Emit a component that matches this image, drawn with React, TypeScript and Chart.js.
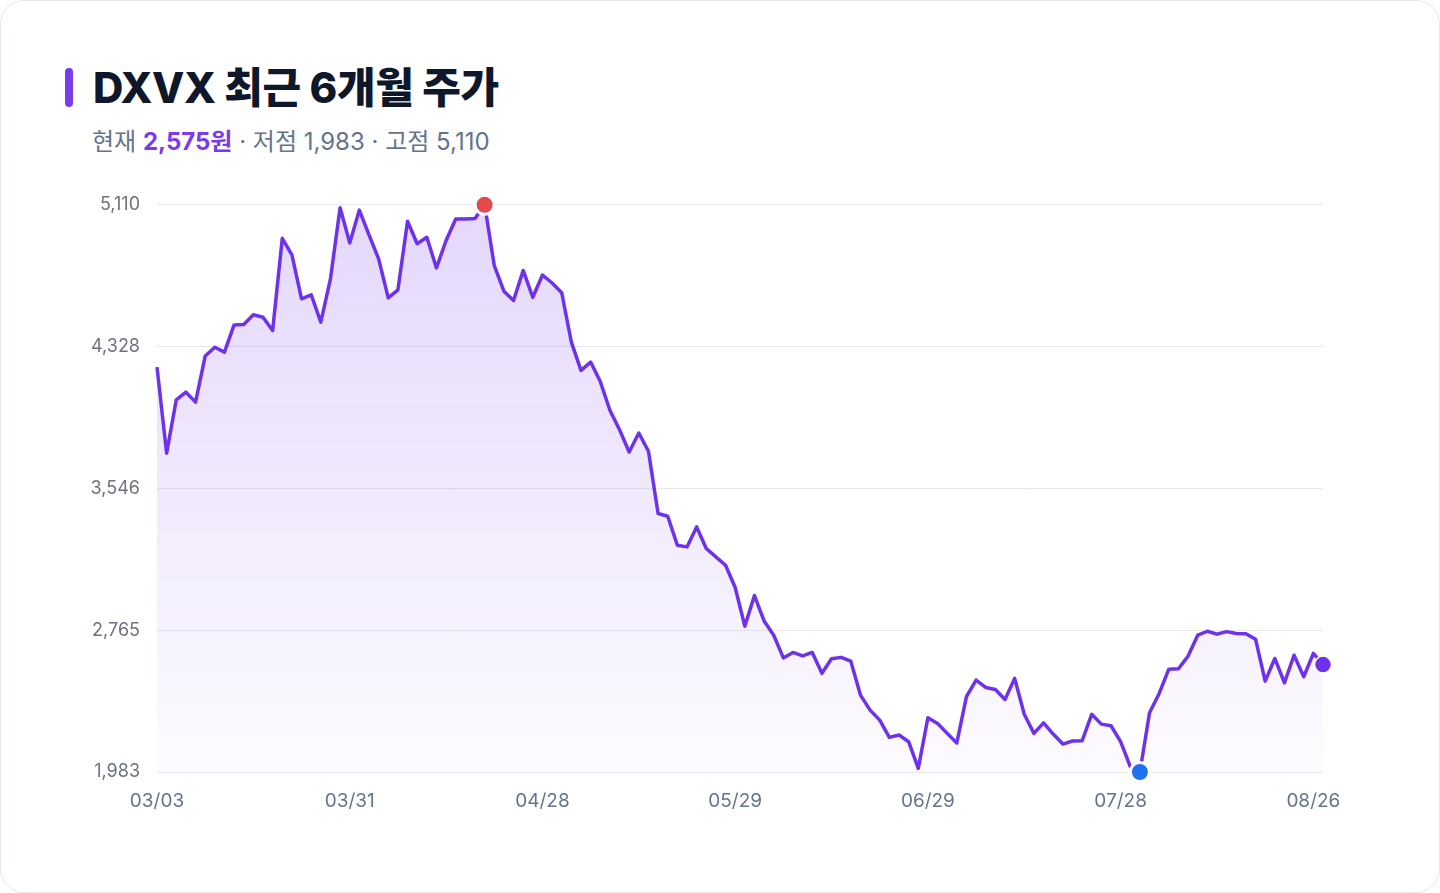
import React, { useEffect, useRef } from "react";
import { Chart, registerables } from "chart.js";

Chart.register(...registerables);

const FONT = "Inter, 'Noto Sans CJK KR', sans-serif";

// 일별 종가 (03/03 ~ 08/27), 그림에서 읽은 값
const prices = [
  4215, 3741, 4035, 4077, 4022, 4276, 4325, 4298, 4448, 4450,
  4504, 4490, 4417, 4925, 4834, 4592, 4614, 4463, 4702, 5094,
  4900, 5081, 4944, 4812, 4597, 4641, 5019, 4895, 4931, 4762,
  4913, 5032, 5032, 5035, 5110, 4775, 4634, 4582, 4748, 4600,
  4723, 4679, 4625, 4353, 4197, 4243, 4136, 3977, 3870, 3747,
  3852, 3751, 3408, 3393, 3233, 3224, 3334, 3215, 3169, 3123,
  3000, 2787, 2956, 2816, 2737, 2612, 2642, 2623, 2642, 2527,
  2607, 2615, 2594, 2407, 2324, 2269, 2174, 2187, 2150, 2003,
  2282, 2251, 2196, 2143, 2398, 2490, 2449, 2438, 2383, 2499,
  2301, 2196, 2254, 2192, 2137, 2154, 2155, 2301, 2247, 2238,
  2150, 2012, 1983, 2310, 2416, 2550, 2552, 2622, 2737, 2759,
  2743, 2757, 2747, 2745, 2715, 2484, 2609, 2475, 2627, 2508,
  2637, 2575,
];

const xTickIdx = [0, 20, 40, 60, 80, 100, 120];
const xTickLabels = ["03/03", "03/31", "04/28", "05/29", "06/29", "07/28", "08/26"];
const yTicks = [1983, 2765, 3546, 4328, 5110];

const LINE = "#6d32ea";

export default function App() {
  const canvasEl = useRef<HTMLCanvasElement>(null);

  useEffect(() => {
    if (!canvasEl.current) return;
    const ctx = canvasEl.current.getContext("2d");
    if (!ctx) return;

    const hi = prices.indexOf(Math.max(...prices));
    const lo = prices.indexOf(Math.min(...prices));
    const last = prices.length - 1;

    const chart = new Chart(ctx, {
      type: "line",
      data: {
        labels: prices.map((_, i) => String(i)),
        datasets: [
          {
            data: prices,
            borderColor: LINE,
            borderWidth: 3.5,
            borderJoinStyle: "round",
            tension: 0,
            fill: "start",
            clip: false,
            backgroundColor: (c: any) => {
              const area = c.chart.chartArea;
              if (!area) return "rgba(124,58,237,0.12)";
              const g = c.chart.ctx.createLinearGradient(0, area.top, 0, area.bottom);
              g.addColorStop(0, "rgba(124,58,237,0.2)");
              g.addColorStop(1, "rgba(124,58,237,0.02)");
              return g;
            },
            pointRadius: (c: any) =>
              c.dataIndex === hi || c.dataIndex === lo ? 9.5 : c.dataIndex === last ? 8.5 : 0,
            pointBackgroundColor: (c: any) =>
              c.dataIndex === hi ? "#e5484d" : c.dataIndex === lo ? "#1f72ee" : LINE,
            pointBorderColor: "#ffffff",
            pointBorderWidth: (c: any) => (c.dataIndex === last ? 1.5 : 3),
            pointHoverRadius: 0,
          },
        ],
      },
      options: {
        animation: false,
        responsive: true,
        maintainAspectRatio: false,
        layout: { padding: { top: 18, right: 58, left: 0, bottom: 0 } },
        plugins: { legend: { display: false }, tooltip: { enabled: false } },
        scales: {
          x: {
            type: "category",
            offset: false,
            grid: { display: false },
            border: { display: false },
            afterFit: (s: any) => {
              s.height = 50;
            },
            ticks: {
              autoSkip: false,
              maxRotation: 0,
              padding: 10,
              color: "#64748b",
              font: { size: 19, family: FONT },
              callback: (_v: any, i: number) => {
                const k = xTickIdx.indexOf(i);
                return k >= 0 ? xTickLabels[k] : null;
              },
            },
          },
          y: {
            min: yTicks[0],
            max: yTicks[yTicks.length - 1],
            afterBuildTicks: (s: any) => {
              s.ticks = yTicks.map((v) => ({ value: v }));
            },
            afterFit: (s: any) => {
              s.width = 97;
            },
            grid: { color: "#e8e8ec", drawTicks: false },
            border: { display: false },
            ticks: {
              padding: 17,
              color: "#6b7280",
              font: { size: 18, family: FONT },
              callback: (v: any) => Number(v).toLocaleString("en-US"),
            },
          },
        },
      },
    });

    return () => {
      chart.destroy();
    };
  }, []);

  return (
    <div
      style={{
        position: "relative",
        width: 1438,
        height: 891,
        border: "1px solid #e5e7eb",
        borderRadius: 24,
        background: "#fff",
        fontFamily: FONT,
      }}
    >
      <style>{`body{margin:0;background:#fff}`}</style>
      <div
        style={{
          position: "absolute",
          left: 64,
          top: 67,
          width: 8,
          height: 39,
          borderRadius: 4,
          background: "#7c3aed",
        }}
      />
      <div
        style={{
          position: "absolute",
          left: 92,
          top: 66,
          fontSize: 42,
          lineHeight: "42px",
          fontWeight: 800,
          color: "#0f172a",
          letterSpacing: -0.4,
          whiteSpace: "nowrap",
        }}
      >
        DXVX 최근 6개월 주가
      </div>
      <div
        style={{
          position: "absolute",
          left: 91,
          top: 129,
          fontSize: 24,
          lineHeight: "24px",
          color: "#64748b",
          whiteSpace: "nowrap",
        }}
      >
        현재 <span style={{ color: "#7c3aed", fontWeight: 700 }}>2,575원</span> · 저점 1,983 · 고점 5,110
      </div>
      <div
        style={{ position: "absolute", left: 59, top: 176, width: 1321, height: 645 }}
      >
        <canvas ref={canvasEl} />
      </div>
    </div>
  );
}
